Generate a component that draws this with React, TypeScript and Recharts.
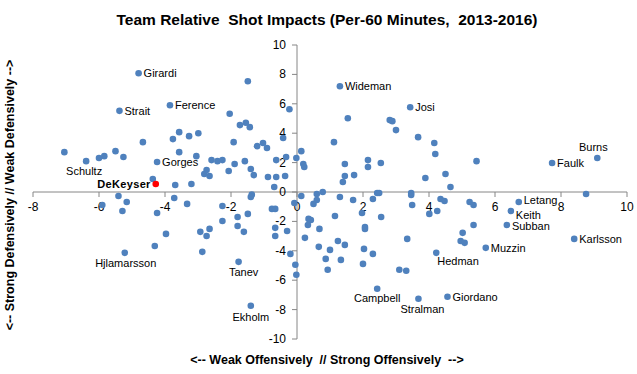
import React from 'react';
import { ScatterChart, Scatter, XAxis, YAxis, ReferenceLine, ReferenceDot } from 'recharts';

// ---- data ----
const xTicks = [-8, -6, -4, -2, 0, 2, 4, 6, 8, 10];
const yTicks = [-10, -8, -6, -4, -2, 0, 2, 4, 6, 8, 10];

const highlightPlayer = [{ name: 'DeKeyser', x: -4.28, y: 0.54 }];

const labeledPlayers = [
  { name: 'Girardi', x: -4.8, y: 8.08 },
  { name: 'Strait', x: -5.38, y: 5.52 },
  { name: 'Ference', x: -3.85, y: 5.9 },
  { name: 'Gorges', x: -4.24, y: 2.04 },
  { name: 'Schultz', x: -6.39, y: 2.1 },
  { name: 'Hjlamarsson', x: -5.22, y: -4.14 },
  { name: 'Tanev', x: -1.77, y: -4.75 },
  { name: 'Ekholm', x: -1.4, y: -7.74 },
  { name: 'Wideman', x: 1.3, y: 7.19 },
  { name: 'Josi', x: 3.43, y: 5.77 },
  { name: 'Burns', x: 9.1, y: 2.31 },
  { name: 'Faulk', x: 7.73, y: 1.97 },
  { name: 'Letang', x: 6.72, y: -0.68 },
  { name: 'Keith', x: 6.48, y: -1.29 },
  { name: 'Subban', x: 6.36, y: -2.24 },
  { name: 'Karlsson', x: 8.4, y: -3.19 },
  { name: 'Muzzin', x: 5.72, y: -3.8 },
  { name: 'Hedman', x: 4.22, y: -4.14 },
  { name: 'Campbell', x: 2.43, y: -6.58 },
  { name: 'Stralman', x: 3.68, y: -7.26 },
  { name: 'Giordano', x: 4.56, y: -7.13 },
];

const otherPlayers: [number, number][] = [
  [-1.49, 7.53], [-0.23, 5.63], [-2.04, 5.32], [-1.73, 4.55], [-1.55, 4.71], [-1.43, 4.41],
  [-3.57, 4.07], [-3.76, 3.6], [-3.27, 3.8], [-2.99, 4.0], [-4.67, 3.39], [-1.92, 3.39],
  [-1.21, 3.12], [-1.03, 3.33], [-0.91, 2.99], [-0.42, 3.67], [-7.05, 2.71], [-5.5, 2.78],
  [-5.26, 2.38], [-5.84, 2.44], [-6.0, 2.31], [-3.57, 2.71], [-3.05, 2.44], [-2.59, 2.17],
  [-2.41, 2.1], [-2.26, 2.17], [-1.58, 2.1], [-1.89, 1.9], [-1.4, 1.56], [-2.07, 1.43],
  [-2.74, 1.49], [-2.81, 1.22], [-2.65, 1.09], [-1.31, 1.15], [-0.88, 1.02], [-0.63, 1.02],
  [-0.36, 1.09], [-0.63, 2.17], [-0.33, 2.38], [-0.02, 2.31], [0.13, 2.78], [0.19, 1.9],
  [0.22, 1.7], [-4.37, 0.88], [-3.69, 0.48], [-3.2, 0.54], [-0.69, 0.34],
  [1.54, 5.02], [2.81, 4.89], [2.89, 4.82], [3.0, 4.21], [3.67, 3.73], [4.16, 3.33],
  [1.12, 3.39], [4.19, 2.58], [1.45, 1.9], [2.15, 2.17], [2.15, 1.7], [2.54, 1.97],
  [5.44, 2.1], [1.45, 1.09], [1.73, 1.15], [1.39, 0.68], [3.89, 0.95], [4.5, 1.22],
  [4.65, 0.34], [0.78, 0.0],
  [-5.41, -0.27], [-5.16, -0.68], [-5.9, -0.88], [-3.72, -0.41], [-3.33, -0.81], [-2.26, -0.95],
  [-1.37, -0.18], [-1.4, -0.34], [0.13, -0.27], [-0.08, -0.75], [0.6, -0.14], [0.5, -0.81],
  [0.6, -0.54], [-5.29, -1.29], [-4.24, -1.43], [-1.49, -1.49], [-1.8, -1.7], [-2.26, -1.97],
  [-1.8, -2.31], [-1.61, -2.71], [-2.65, -2.51], [-2.93, -2.71], [-2.74, -2.99], [-3.97, -2.85],
  [-4.31, -3.67], [-2.87, -4.07], [-0.76, -1.15], [-0.66, -1.15], [-0.66, -2.44], [-0.66, -2.99],
  [-0.3, -2.65], [-0.2, -4.21], [-0.05, -4.95], [-0.02, -5.63], [0.35, -1.83], [0.42, -1.9],
  [0.33, -2.24], [0.24, -3.12], [0.68, -2.51], [0.66, -3.73],
  [1.3, -0.34], [2.43, -0.07], [2.49, -0.07], [2.3, -0.48], [1.7, -0.54], [3.46, -0.07],
  [3.46, -0.2], [3.49, -0.88], [4.35, -0.48], [4.47, -0.61], [5.23, -0.68], [5.35, -0.88],
  [8.76, -0.14], [4.25, -1.29], [4.01, -1.49], [1.97, -1.43], [2.55, -1.7], [1.15, -1.63],
  [2.06, -2.38], [2.06, -2.51], [5.35, -2.24], [5.02, -2.78], [4.96, -3.33], [5.08, -3.46],
  [3.34, -3.19], [1.24, -3.33], [1.45, -3.6], [1.0, -3.94], [2.03, -3.87], [2.3, -4.21],
  [0.87, -4.55], [1.33, -4.62], [2.0, -4.89], [0.93, -5.29], [3.1, -5.29], [3.31, -5.36],
];

// ---- label placement (style, not data) ----
type Place = { dx: number; dy: number; anchor: 'start' | 'middle' | 'end' };
const RIGHT: Place = { dx: 5, dy: 4, anchor: 'start' };
const labelPlace: Record<string, Place> = {
  DeKeyser: { dx: -5, dy: 4, anchor: 'end' },
  Schultz: { dx: -2, dy: 14, anchor: 'middle' },
  Hjlamarsson: { dx: 1, dy: 14, anchor: 'middle' },
  Tanev: { dx: 5, dy: 14, anchor: 'middle' },
  Ekholm: { dx: 0, dy: 15, anchor: 'middle' },
  Burns: { dx: -4, dy: -7, anchor: 'middle' },
  Letang: { dx: 5, dy: 2, anchor: 'start' },
  Keith: { dx: 5, dy: 8, anchor: 'start' },
  Subban: { dx: 5, dy: 5, anchor: 'start' },
  Hedman: { dx: 1, dy: 12, anchor: 'start' },
  Campbell: { dx: 0, dy: 13, anchor: 'middle' },
  Stralman: { dx: 4, dy: 14, anchor: 'middle' },
};

const BLUE = '#4F81BD';
const AXIS = '#868686';
const FONT = '"Liberation Sans", Arial, sans-serif';

const makeDot = (color: string, bold: boolean) => (props: any) => {
  const { cx, cy, payload } = props;
  const name = payload && payload.name;
  const p = name ? labelPlace[name] || RIGHT : null;
  return (
    <g>
      <circle cx={cx} cy={cy} r={3.3} fill={color} />
      {p && (
        <text
          x={cx + p.dx}
          y={cy + p.dy}
          textAnchor={p.anchor}
          fontFamily={FONT}
          fontSize={11}
          fontWeight={bold ? 'bold' : 'normal'}
          letterSpacing={bold ? 0.35 : 0}
          fill="#000"
        >
          {name}
        </text>
      )}
    </g>
  );
};

const xTickShape = (v: number) => (props: any) => (
  <g>
    <line x1={props.cx} y1={props.cy} x2={props.cx} y2={props.cy + 5} stroke={AXIS} />
    <text x={props.cx} y={props.cy + 19} textAnchor="middle" fontFamily={FONT} fontSize={12} fill="#000">
      {v}
    </text>
  </g>
);

const yTickShape = (v: number) => (props: any) => (
  <g>
    <line x1={props.cx - 5} y1={props.cy} x2={props.cx} y2={props.cy} stroke={AXIS} />
    <text x={props.cx - 11} y={props.cy + 4} textAnchor="end" fontFamily={FONT} fontSize={12} fill="#000">
      {v}
    </text>
  </g>
);

export default function App() {
  const others = otherPlayers.map(([x, y]) => ({ x, y }));
  return (
    <div style={{ position: 'absolute', left: 0, top: 0, width: 637, height: 374, background: '#fff' }}>
      <ScatterChart width={637} height={374} margin={{ top: 45, right: 10, bottom: 35, left: 33 }}>
        <XAxis type="number" dataKey="x" domain={[-8, 10]} ticks={xTicks} hide />
        <YAxis type="number" dataKey="y" domain={[-10, 10]} ticks={yTicks} hide />
        <ReferenceLine y={0} stroke={AXIS} strokeWidth={1} />
        <ReferenceLine x={0} stroke={AXIS} strokeWidth={1} />
        {xTicks.map((v) => (
          <ReferenceDot key={'xt' + v} x={v} y={0} r={0} shape={xTickShape(v)} />
        ))}
        {yTicks.map((v) => (
          <ReferenceDot key={'yt' + v} x={0} y={v} r={0} shape={yTickShape(v)} />
        ))}
        <Scatter data={others} isAnimationActive={false} shape={makeDot(BLUE, false)} />
        <Scatter data={labeledPlayers} isAnimationActive={false} shape={makeDot(BLUE, false)} />
        <Scatter data={highlightPlayer} isAnimationActive={false} shape={makeDot('#FF0000', true)} />
      </ScatterChart>
      <svg
        width={637}
        height={374}
        style={{ position: 'absolute', left: 0, top: 0, pointerEvents: 'none' }}
      >
        <text x={327} y={25} textAnchor="middle" fontFamily={FONT} fontSize={15.5} fontWeight="bold" fill="#000" style={{ whiteSpace: 'pre' }}>
          {'Team Relative  Shot Impacts (Per-60 Minutes,  2013-2016)'}
        </text>
        <text x={327} y={364} textAnchor="middle" fontFamily={FONT} fontSize={12.5} fontWeight="bold" fill="#000" style={{ whiteSpace: 'pre' }}>
          {'<-- Weak Offensively  // Strong Offensively  -->'}
        </text>
        <text
          x={14}
          y={195}
          textAnchor="middle"
          fontFamily={FONT}
          fontSize={12.5}
          fontWeight="bold"
          fill="#000"
          transform="rotate(-90 14 195)"
          style={{ whiteSpace: 'pre' }}
        >
          {'<-- Strong Defensively // Weak Defensively -->'}
        </text>
      </svg>
    </div>
  );
}
